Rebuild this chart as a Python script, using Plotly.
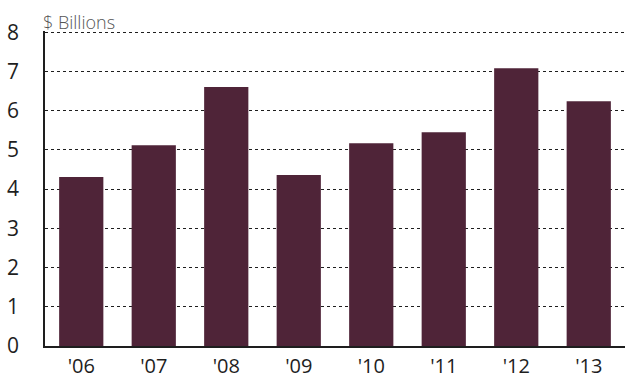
import plotly.graph_objects as go

years = ["'06", "'07", "'08", "'09", "'10", "'11", "'12", "'13"]
values = [4.31, 5.12, 6.60, 4.36, 5.17, 5.45, 7.08, 6.24]
y_ticks = [0, 1, 2, 3, 4, 5, 6, 7, 8]

bar_color = "#4F2438"
ink = "#1E1E1E"

fig = go.Figure(
    go.Bar(x=years, y=values, marker=dict(color=bar_color, line=dict(width=0)))
)

fig.update_layout(
    width=625,
    height=379,
    margin=dict(l=45, r=0, t=31, b=33, autoexpand=False),
    paper_bgcolor="white",
    plot_bgcolor="white",
    bargap=0.39,
    showlegend=False,
    font=dict(family="Open Sans", color=ink),
)

fig.update_yaxes(
    range=[0, 8.03],
    tickvals=y_ticks,
    ticktext=[str(v) for v in y_ticks],
    tickfont=dict(size=21, color=ink),
    showgrid=True,
    gridcolor=ink,
    gridwidth=1,
    griddash="dot",
    showline=True,
    linecolor=ink,
    linewidth=1.5,
    ticks="",
    ticklabelstandoff=20,
    zeroline=False,
    automargin=False,
)

fig.update_xaxes(
    tickfont=dict(size=20, color=ink),
    showline=True,
    linecolor=ink,
    linewidth=1.5,
    ticks="",
    showgrid=False,
    ticklabelstandoff=1,
    automargin=False,
)

fig.add_annotation(
    text="$ Billions",
    xref="paper",
    yref="paper",
    x=0,
    y=1,
    xanchor="left",
    yanchor="bottom",
    xshift=-4,
    yshift=-5,
    showarrow=False,
    font=dict(family="Open Sans", size=18, color="#555555", weight=300),
)

fig.write_html("out.html")
